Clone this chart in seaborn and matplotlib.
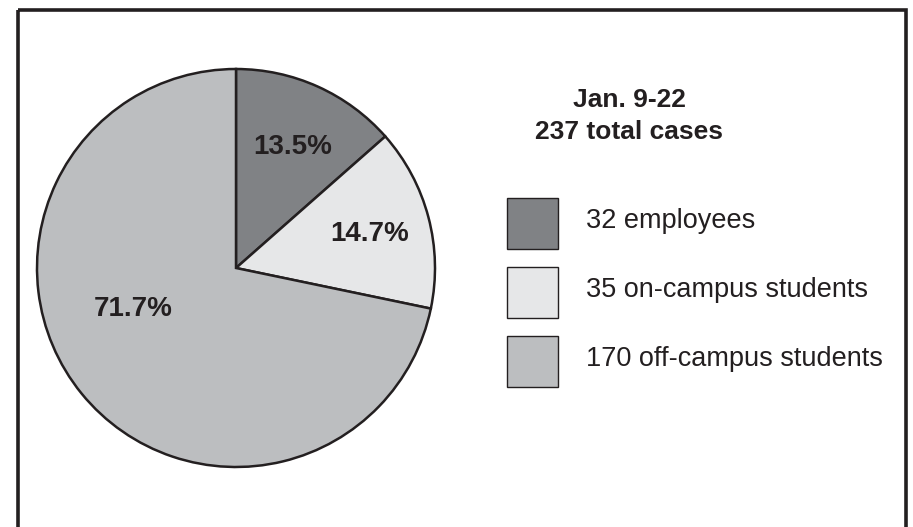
import matplotlib
matplotlib.use("Agg")
import matplotlib.pyplot as plt
from matplotlib.patches import Rectangle
import seaborn as sns

# ---- data ----
categories = ["employees", "on-campus students", "off-campus students"]
cases = [32, 35, 170]
pct_labels = ["13.5%", "14.7%", "71.7%"]
title_lines = ["Jan. 9-22", "237 total cases"]
legend_labels = ["32 employees", "35 on-campus students", "170 off-campus students"]

# ---- style ----
sns.set_theme(style="white")
plt.rcParams["font.family"] = ["Liberation Sans", "DejaVu Sans"]
colors = ["#808285", "#e6e7e8", "#bcbec0"]
ink = "#231f20"

W, H = 913, 527
fig = plt.figure(figsize=(W / 100, H / 100), dpi=100)
ax = fig.add_axes([0, 0, 1, 1])

# pie (y axis is inverted afterwards, so angles are mirrored:
# data startangle -90 + counterclockwise == visual top + clockwise)
cx, cy, r = 236, 268, 199
wedges, _ = ax.pie(cases, colors=colors, startangle=-90, counterclock=True,
                   center=(cx, cy), radius=r, frame=True,
                   wedgeprops=dict(edgecolor=ink, linewidth=1.8))
ax.set_xlim(0, W)
ax.set_ylim(H, 0)
ax.set_aspect("equal")
ax.axis("off")

# frame
ax.add_patch(Rectangle((18, 10), 888, 540, fill=False, edgecolor=ink, linewidth=2.6))

label_pos = [(293, 147), (370, 234), (133, 309)]
for (x, y), t in zip(label_pos, pct_labels):
    ax.text(x, y, t, ha="center", va="center", fontsize=20, fontweight="bold", color=ink)

# title
ax.text(629, 100, title_lines[0], ha="center", va="center", fontsize=19,
        fontweight="bold", color=ink)
ax.text(629, 132, title_lines[1], ha="center", va="center", fontsize=19,
        fontweight="bold", color=ink)

# legend
tops = [198, 267, 336]
for top, c, lab in zip(tops, colors, legend_labels):
    ax.add_patch(Rectangle((507, top), 51, 51, facecolor=c, edgecolor=ink, linewidth=1.0))
    ax.text(586, top + 23, lab, ha="left", va="center", fontsize=19.5, color=ink)

fig.savefig("out.png", dpi=100)
